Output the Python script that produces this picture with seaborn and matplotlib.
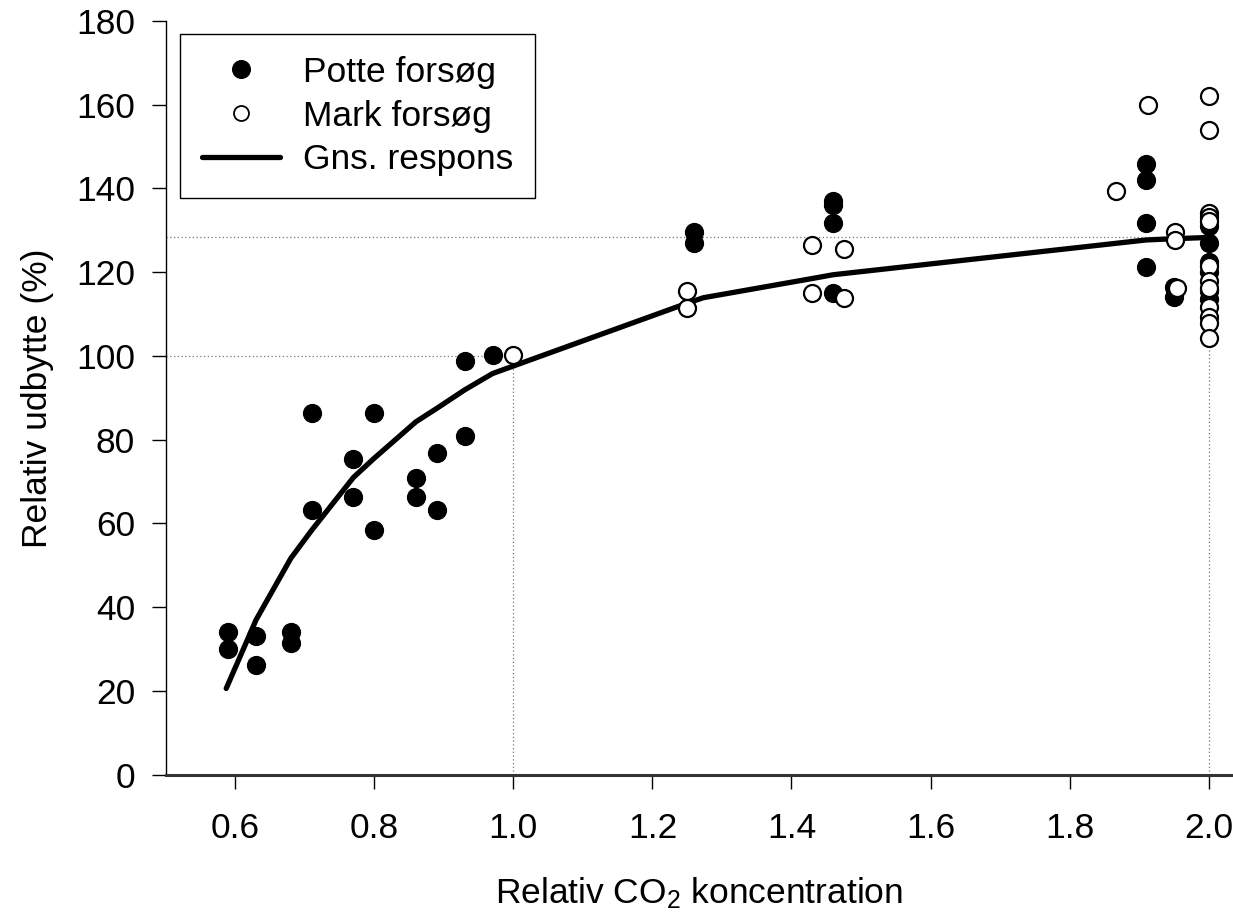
import matplotlib
matplotlib.use("Agg")
import matplotlib.pyplot as plt
import seaborn as sns
import pandas as pd
from matplotlib.lines import Line2D

# ---- data ----
potte_x = [0.59, 0.59, 0.63, 0.63, 0.68, 0.68, 0.71, 0.71, 0.77, 0.77,
           0.80, 0.80, 0.86, 0.86, 0.89, 0.89, 0.93, 0.93, 0.97,
           1.26, 1.26, 1.46, 1.46, 1.46, 1.46,
           1.91, 1.91, 1.91, 1.91, 1.95, 1.95,
           2.0, 2.0, 2.0, 2.0, 2.0, 2.0]
potte_y = [34.2, 30.0, 33.1, 26.2, 34.2, 31.5, 86.3, 63.2, 75.3, 66.4,
           86.3, 58.4, 70.8, 66.4, 76.8, 63.2, 80.9, 98.8, 100.2,
           129.5, 127.0, 137.0, 136.0, 131.7, 115.0,
           145.8, 142.0, 131.7, 121.3, 116.4, 114.2,
           131.0, 127.0, 122.5, 120.0, 115.5, 113.5]

mark_x = [1.0, 1.25, 1.25, 1.43, 1.43, 1.475, 1.475,
          1.867, 1.913, 1.952, 1.952, 1.955,
          2.0, 2.0, 2.0, 2.0, 2.0, 2.0, 2.0, 2.0, 2.0, 2.0, 2.0, 2.0]
mark_y = [100.2, 115.4, 111.4, 126.5, 115.1, 125.5, 113.8,
          139.5, 160.0, 129.7, 127.7, 116.2,
          162.0, 154.0, 134.2, 133.2, 132.2, 121.5, 117.8, 116.2, 111.8, 109.2, 107.8, 104.3]

resp_x = [0.587, 0.63, 0.68, 0.71, 0.77, 0.80, 0.86, 0.89, 0.93, 0.97, 1.0,
          1.25, 1.273, 1.43, 1.46, 1.91, 1.95, 2.0]
resp_y = [20.6, 37.0, 51.7, 58.4, 71.0, 75.6, 84.3, 87.5, 91.9, 95.8, 97.6,
          112.6, 113.9, 118.5, 119.4, 127.7, 128.0, 128.3]

xticks = [0.6, 0.8, 1.0, 1.2, 1.4, 1.6, 1.8, 2.0]
yticks = list(range(0, 181, 20))

sns.set_style("ticks")
plt.rcParams['font.family'] = ['Liberation Sans', 'DejaVu Sans']
plt.rcParams['mathtext.fontset'] = 'custom'
plt.rcParams['mathtext.rm'] = 'Liberation Sans'
plt.rcParams['mathtext.it'] = 'Liberation Sans:italic'
for k in ['text.color', 'axes.labelcolor', 'xtick.color', 'ytick.color']:
    plt.rcParams[k] = 'black'

FS = 25.5

fig = plt.figure(figsize=(12.33, 9.15), dpi=100)
ax = fig.add_axes([0.1344, 0.1533, 0.8656, 0.8238])

# reference dotted lines
dot = dict(ls=(0, (1, 2)), color='#777777', lw=0.9, zorder=1)
ax.plot([0.5, 1.0], [100, 100], **dot)
ax.plot([1.0, 1.0], [0, 100], **dot)
ax.plot([0.5, 2.0], [128.3, 128.3], **dot)
ax.plot([2.0, 2.0], [0, 128.3], **dot)

df_p = pd.DataFrame({'x': potte_x, 'y': potte_y})
df_m = pd.DataFrame({'x': mark_x, 'y': mark_y})
df_r = pd.DataFrame({'x': resp_x, 'y': resp_y})

sns.scatterplot(data=df_p, x='x', y='y', ax=ax, s=165, color='black',
                edgecolor='black', linewidth=1.0, zorder=3, legend=False)
sns.lineplot(data=df_r, x='x', y='y', ax=ax, color='black', lw=3.8,
             sort=False, estimator=None, zorder=4, legend=False)
sns.scatterplot(data=df_m, x='x', y='y', ax=ax, s=150, color='white',
                edgecolor='black', linewidth=1.6, zorder=5, legend=False)

ax.set_xlim(0.5, 2.035)
ax.set_ylim(0, 180)
ax.set_xticks(xticks)
ax.set_xticklabels([f"{t:.1f}" for t in xticks])
ax.set_yticks(yticks)
ax.tick_params(axis='x', direction='out', length=10, width=1, pad=17, labelsize=FS)
ax.tick_params(axis='y', direction='out', length=10, width=1, pad=12, labelsize=FS)
for s in ['top', 'right']:
    ax.spines[s].set_visible(False)
ax.spines['bottom'].set_linewidth(2.2)
ax.spines['bottom'].set_color('#333333')
ax.spines['left'].set_linewidth(1.0)
ax.spines['left'].set_color('black')

ax.set_xlabel(r'Relativ CO$_2$ koncentration', fontsize=FS, labelpad=22)
ax.set_ylabel('Relativ udbytte (%)', fontsize=FS, labelpad=16)

handles = [
    Line2D([], [], marker='o', ls='none', markersize=12.7, markerfacecolor='black', markeredgecolor='black'),
    Line2D([], [], marker='o', ls='none', markersize=10.8, markerfacecolor='white', markeredgecolor='black', markeredgewidth=1.3),
    Line2D([], [], color='black', lw=3.8),
]
leg = ax.legend(handles, ['Potte forsøg', 'Mark forsøg', 'Gns. respons'],
                loc='upper left', bbox_to_anchor=(0.0134, 0.9828), borderaxespad=0,
                fontsize=FS, frameon=True, fancybox=False, handlelength=2.2,
                handletextpad=0.65, labelspacing=0.30, borderpad=0.62)
leg.get_frame().set_edgecolor('black')
leg.get_frame().set_linewidth(1.0)
leg.get_frame().set_alpha(1)

fig.savefig('out.png', dpi=100)
